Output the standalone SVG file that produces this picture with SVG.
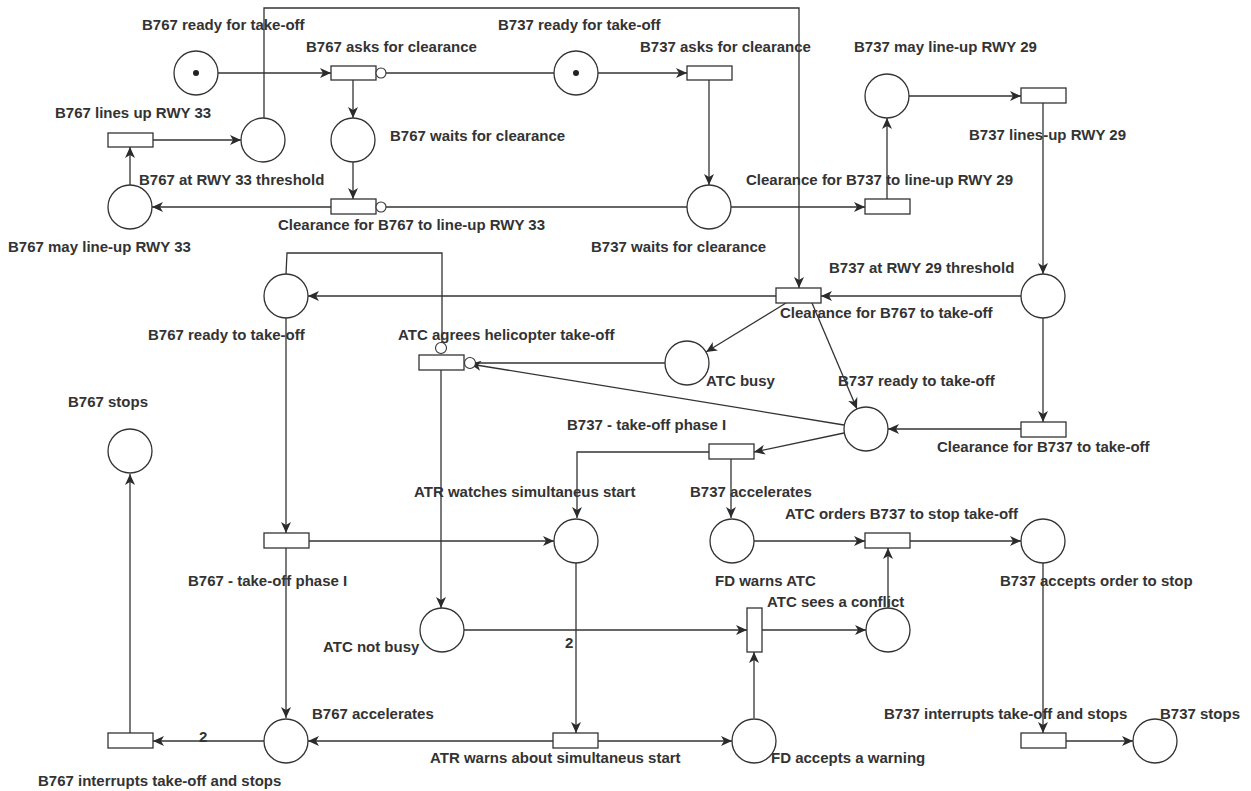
<svg xmlns="http://www.w3.org/2000/svg" width="1251" height="791" viewBox="0 0 1251 791">
<defs>
<marker id="arr" markerUnits="userSpaceOnUse" markerWidth="12" markerHeight="10" refX="11" refY="5" orient="auto">
<path d="M0,0 L11,5 L0,10 L3,5 z" fill="#2b2b2b"/>
</marker>
<style>
.p{fill:#fff;stroke:#333;stroke-width:1.3}
.t{fill:#fff;stroke:#333;stroke-width:1.3}
.inh{fill:#fff;stroke:#333;stroke-width:1.1}
.tok{fill:#222}
.c{fill:none;stroke:#333;stroke-width:1.3}
.a{marker-end:url(#arr)}
text{font-family:"Liberation Sans",Arial,sans-serif;font-size:15px;font-weight:bold;fill:#333}
</style>
</defs>
<rect width="1251" height="791" fill="#fff"/>
<g id="connectors">
<path class="c a" d="M218,73 L331,73"/>
<path class="c a" d="M353,80 L353,118"/>
<path class="c a" d="M353,162 L353,199"/>
<path class="c a" d="M331,207 L152,207"/>
<path class="c a" d="M130,185 L130,147"/>
<path class="c a" d="M153,140 L241,140"/>
<path class="c a" d="M264,118 L264,8 L799,8 L799,288"/>
<path class="c" d="M386,73 L554,73"/>
<path class="c a" d="M598,73 L687,73"/>
<path class="c a" d="M709,80 L709,185"/>
<path class="c" d="M386,207 L687,207"/>
<path class="c a" d="M731,207 L865,207"/>
<path class="c a" d="M887,199 L887,118"/>
<path class="c a" d="M909,96 L1021,96"/>
<path class="c a" d="M1043,103 L1043,274"/>
<path class="c a" d="M1021,296 L821,296"/>
<path class="c a" d="M1043,318 L1043,422"/>
<path class="c a" d="M1021,429 L888,429"/>
<path class="c a" d="M776,296 L308,296"/>
<path class="c a" d="M786,303 L706,352"/>
<path class="c a" d="M812,303 L857,409"/>
<path class="c" d="M665,363 L475,363"/>
<path class="c a" d="M844,425 L470,364"/>
<path class="c" d="M286,274 L287,253 L442,253 L442,342"/>
<path class="c a" d="M441,370 L441,608"/>
<path class="c a" d="M844,433 L754,452"/>
<path class="c a" d="M709,452 L577,452 L577,518"/>
<path class="c a" d="M731,459 L731,518"/>
<path class="c a" d="M286,318 L286,533"/>
<path class="c a" d="M309,541 L554,541"/>
<path class="c a" d="M286,548 L286,718"/>
<path class="c a" d="M264,741 L153,741"/>
<path class="c a" d="M130,733 L130,474"/>
<path class="c a" d="M464,630 L747,630"/>
<path class="c a" d="M576,563 L576,733"/>
<path class="c a" d="M553,741 L308,741"/>
<path class="c a" d="M598,741 L732,741"/>
<path class="c a" d="M754,718 L754,652"/>
<path class="c a" d="M754,541 L865,541"/>
<path class="c a" d="M762,630 L866,630"/>
<path class="c a" d="M888,608 L888,548"/>
<path class="c a" d="M910,541 L1021,541"/>
<path class="c a" d="M1043,563 L1043,733"/>
<path class="c a" d="M1066,741 L1133,741"/>
<text x="199" y="742">2</text>
<text x="565" y="648">2</text>
</g>
<g id="p-b767-ready-for-takeoff"><circle class="p" cx="196" cy="73" r="22"/><circle class="tok" cx="196" cy="73" r="3"/><text x="142" y="30">B767 ready for take-off</text></g>
<g id="t-b767-asks"><rect class="t" x="331" y="66" width="45" height="14"/><circle class="inh" cx="381" cy="73" r="5"/><text x="306" y="52">B767 asks for clearance</text></g>
<g id="p-b737-ready-for-takeoff"><circle class="p" cx="576" cy="73" r="22"/><circle class="tok" cx="576" cy="73" r="3"/><text x="498" y="30">B737 ready for take-off</text></g>
<g id="t-b737-asks"><rect class="t" x="687" y="66" width="45" height="14"/><text x="640" y="52">B737 asks for clearance</text></g>
<g id="p-b737-may-lineup"><circle class="p" cx="887" cy="96" r="22"/><text x="854" y="52">B737 may line-up RWY 29</text></g>
<g id="t-b737-linesup"><rect class="t" x="1021" y="88" width="45" height="15"/><text x="969" y="140">B737 lines-up RWY 29</text></g>
<g id="t-b767-linesup"><rect class="t" x="108" y="133" width="45" height="14"/><text x="55" y="118">B767 lines up RWY 33</text></g>
<g id="p-b767-threshold"><circle class="p" cx="263" cy="140" r="22"/><text x="139" y="185">B767 at RWY 33 threshold</text></g>
<g id="p-b767-waits"><circle class="p" cx="353" cy="140" r="22"/><text x="390" y="141">B767 waits for clearance</text></g>
<g id="p-b767-may-lineup"><circle class="p" cx="130" cy="207" r="22"/><text x="8" y="252">B767 may line-up RWY 33</text></g>
<g id="t-clear-b767-lineup"><rect class="t" x="331" y="199" width="45" height="15"/><circle class="inh" cx="381" cy="207" r="5"/><text x="278" y="230">Clearance for B767 to line-up RWY 33</text></g>
<g id="p-b737-waits"><circle class="p" cx="709" cy="207" r="22"/><text x="591" y="252">B737 waits for clearance</text></g>
<g id="t-clear-b737-lineup"><rect class="t" x="865" y="199" width="45" height="15"/><text x="746" y="185">Clearance for B737 to line-up RWY 29</text></g>
<g id="p-b737-threshold"><circle class="p" cx="1043" cy="296" r="22"/><text x="829" y="273">B737 at RWY 29 threshold</text></g>
<g id="t-clear-b767-takeoff"><rect class="t" x="776" y="288" width="45" height="15"/><text x="780" y="318">Clearance for B767 to take-off</text></g>
<g id="p-b767-ready-to-takeoff"><circle class="p" cx="286" cy="296" r="22"/><text x="148" y="340">B767 ready to take-off</text></g>
<g id="t-atc-agrees"><rect class="t" x="419" y="355" width="45" height="15"/><circle class="inh" cx="441" cy="348" r="5.5"/><circle class="inh" cx="470" cy="363" r="5.5"/><text x="398" y="340">ATC agrees helicopter take-off</text></g>
<g id="p-atc-busy"><circle class="p" cx="687" cy="363" r="22"/><text x="706" y="386">ATC busy</text></g>
<g id="p-b737-ready-to-takeoff"><circle class="p" cx="866" cy="429" r="22"/><text x="838" y="386">B737 ready to take-off</text></g>
<g id="t-clear-b737-takeoff"><rect class="t" x="1021" y="422" width="45" height="15"/><text x="937" y="452">Clearance for B737 to take-off</text></g>
<g id="p-b767-stops"><circle class="p" cx="130" cy="451" r="22"/><text x="68" y="407">B767 stops</text></g>
<g id="t-b737-phase1"><rect class="t" x="709" y="444" width="45" height="15"/><text x="567" y="430">B737 - take-off phase I</text></g>
<g id="p-atr-watches"><circle class="p" cx="576" cy="541" r="22"/><text x="414" y="497">ATR watches simultaneus start</text></g>
<g id="p-fd-warns"><circle class="p" cx="732" cy="541" r="22"/><text x="690" y="497">B737 accelerates</text><text x="715" y="586">FD warns ATC</text></g>
<g id="t-atc-orders"><rect class="t" x="865" y="533" width="45" height="15"/><text x="785" y="519">ATC orders B737 to stop take-off</text></g>
<g id="p-b737-accepts"><circle class="p" cx="1043" cy="541" r="22"/><text x="1000" y="586">B737 accepts order to stop</text></g>
<g id="t-b767-phase1"><rect class="t" x="264" y="533" width="45" height="15"/><text x="188" y="586">B767 - take-off phase I</text></g>
<g id="p-atc-not-busy"><circle class="p" cx="442" cy="630" r="22"/><text x="323" y="652">ATC not busy</text></g>
<g id="t-atc-sees"><rect class="t" x="747" y="608" width="15" height="44"/><text x="767" y="607">ATC sees a conflict</text></g>
<g id="p-conflict"><circle class="p" cx="888" cy="630" r="22"/></g>
<g id="p-b767-accelerates"><circle class="p" cx="286" cy="741" r="22"/><text x="312" y="719">B767 accelerates</text></g>
<g id="t-b767-interrupts"><rect class="t" x="108" y="733" width="45" height="15"/><text x="38" y="786">B767 interrupts take-off and stops</text></g>
<g id="t-atr-warns"><rect class="t" x="553" y="733" width="45" height="15"/><text x="430" y="763">ATR warns about simultaneus start</text></g>
<g id="p-fd-accepts"><circle class="p" cx="754" cy="741" r="22"/><text x="771" y="763">FD accepts a warning</text></g>
<g id="t-b737-interrupts"><rect class="t" x="1021" y="733" width="45" height="15"/><text x="884" y="719">B737 interrupts take-off and stops</text></g>
<g id="p-b737-stops"><circle class="p" cx="1155" cy="741" r="22"/><text x="1160" y="719">B737 stops</text></g>
</svg>
